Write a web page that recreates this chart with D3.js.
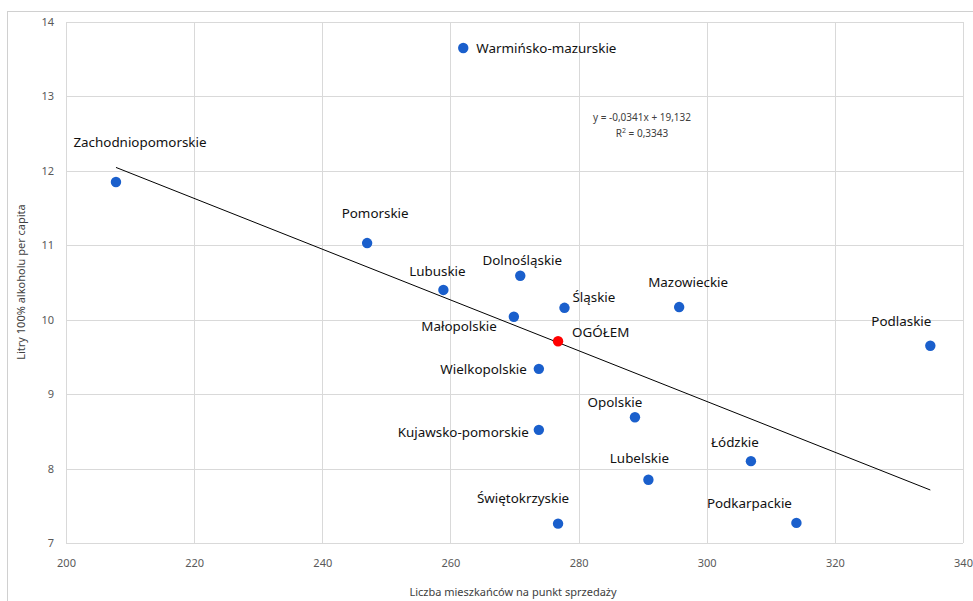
<!DOCTYPE html>
<html>
<head>
<meta charset="utf-8">
<script src="https://cdn.jsdelivr.net/npm/d3@7"></script>
<style>
  body { margin: 0; background: #fff; }
  svg { display: block; font-family: "Noto Sans", sans-serif; }
</style>
</head>
<body>
<div id="chart-container"></div>
<script>
// Data
var regions = ["Warmińsko-mazurskie", "Zachodniopomorskie", "Pomorskie", "Dolnośląskie", "Lubuskie",
    "Śląskie", "Mazowieckie", "Małopolskie", "OGÓŁEM", "Podlaskie", "Wielkopolskie", "Opolskie",
    "Kujawsko-pomorskie", "Łódzkie", "Lubelskie", "Świętokrzyskie", "Podkarpackie"];
var residentsPerOutlet = [262.0, 207.8, 247.0, 270.9, 258.9, 277.8, 295.7, 269.9, 276.8, 334.9,
    273.8, 288.8, 273.8, 306.9, 290.9, 276.8, 314.0];
var litresPerCapita = [13.65, 11.85, 11.03, 10.59, 10.40, 10.16, 10.17, 10.04, 9.71, 9.65,
    9.34, 8.69, 8.52, 8.10, 7.85, 7.26, 7.27];
var xTicks = [200, 220, 240, 260, 280, 300, 320, 340];
var yTicks = [7, 8, 9, 10, 11, 12, 13, 14];
var trendSlope = -0.0341, trendIntercept = 19.132, trendR2 = 0.3343;

// Label placement (offset from point, text anchor)
var labelPlace = [
    [13, 5, "start"], [24, -35, "middle"], [8, -25, "middle"], [2, -11, "middle"], [-6, -14, "middle"],
    [8, -6, "start"], [9, -20, "middle"], [-17, 14, "end"], [14, -4, "start"], [-29, -20, "middle"],
    [-12, 5, "end"], [-20, -10, "middle"], [-10, 7, "end"], [-16, -14, "middle"], [-9, -17, "middle"],
    [-35, -21, "middle"], [-47, -15, "middle"]
];

var W = 973, H = 601;
var margin = {top: 22, right: 10, bottom: 58, left: 66},
    width = 963 - margin.left,
    height = 543 - margin.top;

var svg = d3.select("#chart-container")
    .append("svg")
    .attr("width", W)
    .attr("height", H);

// Outer chart border
svg.append("rect")
    .attr("x", 7.5).attr("y", 11.5)
    .attr("width", W).attr("height", H)
    .attr("fill", "none")
    .attr("stroke", "#d0d0d0");

var plot = svg.append("g")
    .attr("transform", "translate(" + margin.left + "," + margin.top + ")");

var xScale = d3.scaleLinear().domain([200, 340]).range([0, width]);
var yScale = d3.scaleLinear().domain([7, 14]).range([height, 0]);

// Gridlines
plot.append("g")
    .attr("transform", "translate(0," + height + ")")
    .call(d3.axisBottom(xScale).tickValues(xTicks).tickSize(-height).tickFormat(""))
    .call(function(g) {
        g.select(".domain").remove();
        g.selectAll("line").attr("stroke", "#d9d9d9").attr("shape-rendering", "crispEdges");
    });
plot.append("g")
    .call(d3.axisLeft(yScale).tickValues(yTicks).tickSize(-width).tickFormat(""))
    .call(function(g) {
        g.select(".domain").remove();
        g.selectAll("line").attr("stroke", "#d9d9d9").attr("shape-rendering", "crispEdges");
    });

// Tick labels
var xAxis = plot.append("g")
    .attr("transform", "translate(0," + height + ")")
    .call(d3.axisBottom(xScale).tickValues(xTicks).tickSize(0).tickPadding(16).tickFormat(d3.format("d")));
xAxis.select(".domain").remove();
xAxis.selectAll("text").attr("fill", "#595959").style("font-size", "11px").style("font-family", "Noto Sans");

var yAxis = plot.append("g")
    .call(d3.axisLeft(yScale).tickValues(yTicks).tickSize(0).tickPadding(12).tickFormat(d3.format("d")));
yAxis.select(".domain").remove();
yAxis.selectAll("text").attr("fill", "#595959").style("font-size", "11px").style("font-family", "Noto Sans");

// Trendline
var xExt = d3.extent(residentsPerOutlet);
plot.append("line")
    .attr("x1", xScale(xExt[0]))
    .attr("y1", yScale(trendSlope * xExt[0] + trendIntercept))
    .attr("x2", xScale(xExt[1]))
    .attr("y2", yScale(trendSlope * xExt[1] + trendIntercept))
    .attr("stroke", "#000")
    .attr("stroke-width", 1);

// Equation
function comma(v) { return String(v).replace(".", ","); }
var eq = plot.append("text")
    .attr("x", 576)
    .attr("y", 99)
    .attr("text-anchor", "middle")
    .attr("fill", "#404040")
    .style("font-size", "10px");
eq.text("y = " + (trendSlope < 0 ? "-" : "") + comma(Math.abs(trendSlope).toFixed(4)) + "x + " + comma(trendIntercept));
var r2 = plot.append("text")
    .attr("x", 576)
    .attr("y", 115)
    .attr("text-anchor", "middle")
    .attr("fill", "#404040")
    .style("font-size", "10px");
r2.append("tspan").text("R");
r2.append("tspan").attr("dy", -4).style("font-size", "7px").text("2");
r2.append("tspan").attr("dy", 4).text(" = " + comma(trendR2));

// Points
var points = regions.map(function(r, i) {
    return {name: r, x: residentsPerOutlet[i], y: litresPerCapita[i], place: labelPlace[i]};
});

plot.append("g").selectAll("circle")
    .data(points)
    .enter().append("circle")
    .attr("cx", function(d) { return xScale(d.x); })
    .attr("cy", function(d) { return yScale(d.y); })
    .attr("r", 5.2)
    .attr("fill", function(d) { return d.name === "OGÓŁEM" ? "#ff0000" : "#1a5fcc"; });

plot.append("g").selectAll("text")
    .data(points)
    .enter().append("text")
    .attr("x", function(d) { return xScale(d.x) + d.place[0]; })
    .attr("y", function(d) { return yScale(d.y) + d.place[1]; })
    .attr("text-anchor", function(d) { return d.place[2]; })
    .attr("fill", "#111")
    .style("font-size", "13.4px")
    .text(function(d) { return d.name; });

// Axis titles
svg.append("text")
    .attr("x", 513)
    .attr("y", 596)
    .attr("text-anchor", "middle")
    .attr("fill", "#404040")
    .style("font-size", "11px")
    .text("Liczba mieszkańców na punkt sprzedaży");

svg.append("text")
    .attr("transform", "rotate(-90)")
    .attr("x", -282)
    .attr("y", 25)
    .attr("text-anchor", "middle")
    .attr("fill", "#404040")
    .style("font-size", "11px")
    .text("Litry 100% alkoholu per capita");
</script>
</body>
</html>
